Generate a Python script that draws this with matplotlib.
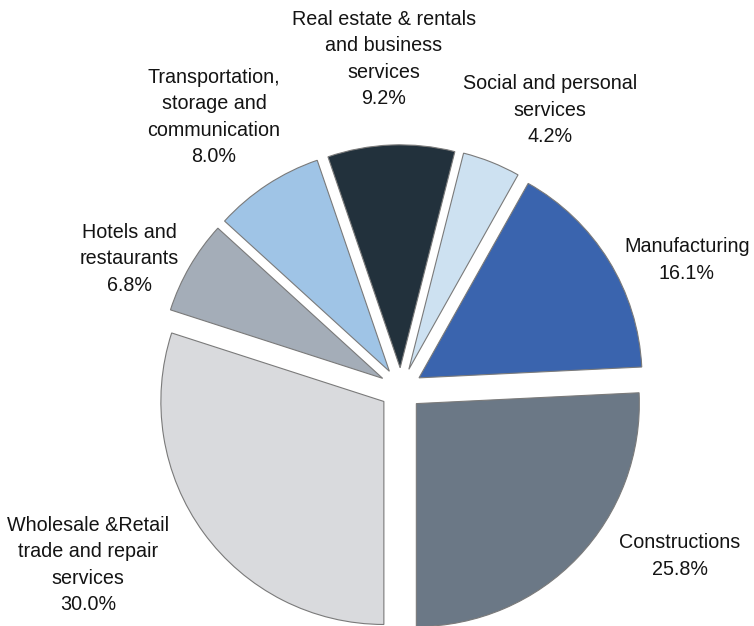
import matplotlib
matplotlib.use("Agg")
import matplotlib.pyplot as plt

# Data (counter-clockwise order starting at the bottom, -90 deg)
categories = [
    "Constructions",
    "Manufacturing",
    "Social and personal\nservices",
    "Real estate & rentals\nand business\nservices",
    "Transportation,\nstorage and\ncommunication",
    "Hotels and\nrestaurants",
    "Wholesale &Retail\ntrade and repair\nservices",
]
shares = [25.8, 16.1, 4.2, 9.2, 8.0, 6.8, 30.0]
colors = ["#6b7886", "#3a64ae", "#cde1f1", "#22313c", "#9fc4e6", "#a4adb8", "#d9dadd"]

# label anchor positions in pixels (x, y from top) - layout only
label_pos = [(680, 556), (687, 260), (550, 110), (384, 59), (214, 117), (129, 259), (88, 565)]

W, H = 754, 626
fig = plt.figure(figsize=(W / 100, H / 100), dpi=100)
ax = fig.add_axes([0, 0, 1, 1])

R_px = 223.0
cx, cy = 401.0, 389.0
wedges, _ = ax.pie(
    shares,
    colors=colors,
    startangle=-90,
    counterclock=True,
    explode=[0.095] * len(shares),
    wedgeprops=dict(edgecolor="#7a7a7a", linewidth=0.8),
)
ax.set_aspect("equal", adjustable="datalim")
ax.set_xlim(-cx / R_px, (W - cx) / R_px)
ax.set_ylim(-(H - cy) / R_px, cy / R_px)
ax.axis("off")

for cat, val, (px, py) in zip(categories, shares, label_pos):
    fig.text(px / W, 1 - py / H, f"{cat}\n{val:.1f}%", ha="center", va="center",
             fontsize=14.2, family=["Liberation Sans", "DejaVu Sans"],
             color="#141414", linespacing=1.5)

fig.savefig("out.png", dpi=100)
